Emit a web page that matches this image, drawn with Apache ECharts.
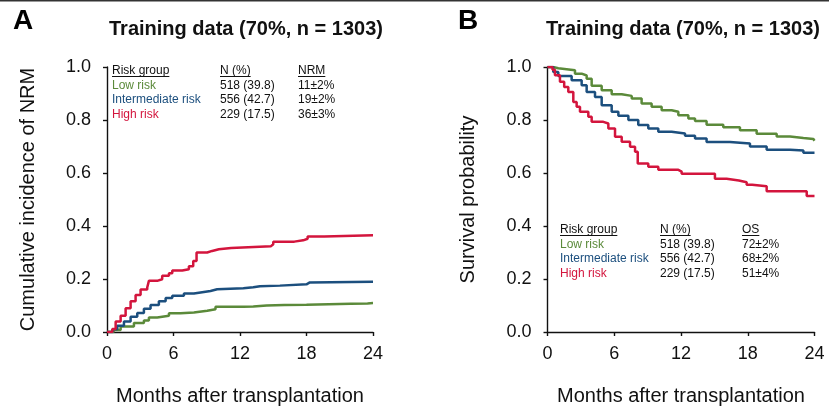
<!DOCTYPE html>
<html lang="en">
<head>
    <meta charset="UTF-8">
    <title>NRM and OS by risk group</title>
    <script src="https://cdn.jsdelivr.net/npm/echarts@6/dist/echarts.min.js"></script>
    <style>
        html, body { margin: 0; padding: 0; background: #fff; }
    </style>
</head>
<body>
    <div id="main" style="width: 829px;height:411px;"></div>
    <script>
        // table text
        var groups = ['Low risk', 'Intermediate risk', 'High risk'];
        var nCounts = ['518 (39.8)', '556 (42.7)', '229 (17.5)'];
        var nrmText = ['11±2%', '19±2%', '36±3%'];
        var osText = ['72±2%', '68±2%', '51±4%'];

        // panel A - cumulative incidence of NRM, [month, value]
        var nrmLow = [[0, 0], [0.6, 0.008], [1.23, 0.021], [2.43, 0.034], [3.33, 0.043], [3.78, 0.055],
            [4.53, 0.061], [5.59, 0.071], [6.64, 0.074], [7.84, 0.080], [9.04, 0.086], [9.79, 0.095],
            [12.3, 0.096], [13.2, 0.100], [14.4, 0.102], [16.0, 0.103], [18.0, 0.105], [20.0, 0.107],
            [22.0, 0.108], [23.5, 0.109], [24, 0.109]];
        var nrmMid = [[0, 0], [0.5, 0.010], [0.93, 0.024], [1.53, 0.040], [2.13, 0.058], [2.73, 0.072],
            [3.33, 0.088], [3.93, 0.102], [4.68, 0.116], [5.29, 0.128], [5.89, 0.137], [6.94, 0.145],
            [7.84, 0.151], [8.74, 0.155], [9.34, 0.161], [9.94, 0.165], [12.3, 0.169], [13.2, 0.173],
            [13.8, 0.175], [15.6, 0.180], [18.0, 0.187], [18.3, 0.190], [24, 0.190]];
        var nrmHigh = [[0, 0], [0.48, 0.011], [0.78, 0.040], [1.23, 0.061], [1.68, 0.090], [2.13, 0.116],
            [2.58, 0.140], [3.03, 0.160], [3.63, 0.168], [3.78, 0.193], [4.53, 0.199], [4.98, 0.212],
            [5.59, 0.222], [5.89, 0.232], [6.79, 0.237], [7.39, 0.248], [7.78, 0.268], [8.08, 0.300],
            [9.04, 0.306], [9.49, 0.312], [10.09, 0.317], [11.2, 0.324], [14.8, 0.331], [15.0, 0.341],
            [16.9, 0.346], [17.7, 0.352], [18.1, 0.360], [19.6, 0.365], [24, 0.365]];

        // panel B - overall survival, [month, value]
        var osLow = [[0, 1], [0.5, 0.995], [0.97, 0.988], [2.47, 0.975], [3.07, 0.968], [3.52, 0.956],
            [3.97, 0.929], [4.87, 0.912], [5.77, 0.897], [6.67, 0.891], [7.57, 0.881], [8.46, 0.862],
            [9.36, 0.850], [10.26, 0.837], [11.16, 0.831], [11.76, 0.818], [12.66, 0.806], [13.26, 0.796],
            [14.3, 0.782], [15.8, 0.773], [17.3, 0.761], [18.8, 0.748], [20.6, 0.738], [21.8, 0.732],
            [23.0, 0.728], [23.9, 0.722], [24, 0.722]];
        var osMid = [[0, 1], [0.52, 0.981], [0.97, 0.966], [2.17, 0.950], [3.07, 0.931], [3.52, 0.906],
            [4.27, 0.887], [4.87, 0.856], [5.77, 0.831], [6.37, 0.816], [7.27, 0.800], [8.16, 0.781],
            [9.06, 0.768], [9.96, 0.756], [11.16, 0.749], [12.36, 0.741], [13.26, 0.730], [14.3, 0.717],
            [16.4, 0.711], [18.2, 0.700], [19.7, 0.688], [21.8, 0.685], [23.0, 0.676], [24, 0.676]];
        var osHigh = [[0, 1], [0.45, 0.990], [0.67, 0.969], [1.12, 0.944], [1.5, 0.925], [1.87, 0.906],
            [2.32, 0.868], [2.62, 0.850], [2.92, 0.831], [3.67, 0.812], [3.97, 0.793], [5.02, 0.787],
            [5.47, 0.768], [6.07, 0.737], [6.67, 0.718], [7.42, 0.699], [7.87, 0.680], [8.11, 0.636],
            [9.06, 0.624], [9.96, 0.612], [11.76, 0.605], [12.06, 0.597], [15.05, 0.578], [16.1, 0.572],
            [17.2, 0.565], [17.9, 0.556], [18.4, 0.550], [19.7, 0.531], [23.3, 0.513], [24, 0.513]];

        var colors = ['#5b8a3a', '#1c4f7e', '#d3153d'];
        var font = '"Liberation Sans", Arial, sans-serif';

        var myChart = echarts.init(document.getElementById('main'));

        function xAxisOf(idx) {
            return {
                type: 'value', gridIndex: idx, min: 0, max: 24, interval: 6,
                name: 'Months after transplantation', nameLocation: 'middle', nameGap: 54,
                nameTextStyle: { fontSize: 20, color: '#111', fontFamily: font },
                axisLine: { lineStyle: { color: '#111', width: 1.4 } },
                axisTick: { inside: false, length: 4, lineStyle: { color: '#111', width: 1.4 } },
                axisLabel: { fontSize: 18, color: '#111', margin: 13, fontFamily: font },
                splitLine: { show: false }
            };
        }
        function yAxisOf(idx, name) {
            return {
                type: 'value', gridIndex: idx, min: 0, max: 1, interval: 0.2,
                name: name, nameLocation: 'middle', nameGap: 69,
                nameTextStyle: { fontSize: 20, color: '#111', fontFamily: font },
                axisLine: { show: true, lineStyle: { color: '#111', width: 1.4 } },
                axisTick: { show: true, inside: false, length: 4, lineStyle: { color: '#111', width: 1.4 } },
                axisLabel: { fontSize: 18, color: '#111', margin: 16, fontFamily: font,
                    formatter: function (v) { return v.toFixed(1); } },
                splitLine: { show: false }
            };
        }
        function line(name, data, c, xi) {
            return {
                name: name, type: 'line', xAxisIndex: xi, yAxisIndex: xi,
                step: 'end', symbol: 'none', data: data,
                lineStyle: { color: c, width: 2.5 }, itemStyle: { color: c }
            };
        }

        // underlined headers + table rows
        var ctx = document.createElement('canvas').getContext('2d');
        ctx.font = '12px ' + font;
        function table(x0, x1, x2, y0, lastHead, lastCol) {
            var out = [];
            var heads = [['Risk group', x0], ['N (%)', x1], [lastHead, x2]];
            heads.forEach(function (h) {
                out.push({ type: 'text', x: h[1], y: y0, style: { text: h[0], font: '12px ' + font, fill: '#111', verticalAlign: 'middle' } });
                var w = ctx.measureText(h[0]).width;
                out.push({ type: 'line', shape: { x1: h[1], y1: y0 + 5.5, x2: h[1] + w, y2: y0 + 5.5 }, style: { stroke: '#111', lineWidth: 1 } });
            });
            for (var i = 0; i < groups.length; i++) {
                var y = y0 + 14.5 * (i + 1);
                out.push({ type: 'text', x: x0, y: y, style: { text: groups[i], font: '12px ' + font, fill: colors[i], verticalAlign: 'middle' } });
                out.push({ type: 'text', x: x1, y: y, style: { text: nCounts[i], font: '12px ' + font, fill: '#111', verticalAlign: 'middle' } });
                out.push({ type: 'text', x: x2, y: y, style: { text: lastCol[i], font: '12px ' + font, fill: '#111', verticalAlign: 'middle' } });
            }
            return out;
        }

        var titleFont = 'bold 20px ' + font;
        var graphics = [
            { type: 'line', shape: { x1: 0, y1: 0.5, x2: 829, y2: 0.5 }, style: { stroke: '#333', lineWidth: 2 } },
            { type: 'text', x: 13, y: 21, style: { text: 'A', font: 'bold 28px ' + font, fill: '#000', verticalAlign: 'middle' } },
            { type: 'text', x: 458, y: 21, style: { text: 'B', font: 'bold 28px ' + font, fill: '#000', verticalAlign: 'middle' } },
            { type: 'text', x: 246, y: 29, style: { text: 'Training data (70%, n = 1303)', font: titleFont, fill: '#111', align: 'center', verticalAlign: 'middle' } },
            { type: 'text', x: 683, y: 29, style: { text: 'Training data (70%, n = 1303)', font: titleFont, fill: '#111', align: 'center', verticalAlign: 'middle' } }
        ].concat(table(112, 220, 298, 71, 'NRM', nrmText))
         .concat(table(560, 660, 742, 230, 'OS', osText));

        var option = {
            animation: false,
            backgroundColor: '#fff',
            grid: [
                { left: 107, top: 67, width: 266, height: 266 },
                { left: 547.5, top: 67, width: 267, height: 266 }
            ],
            xAxis: [xAxisOf(0), xAxisOf(1)],
            yAxis: [yAxisOf(0, 'Cumulative incidence of NRM'), yAxisOf(1, 'Survival probability')],
            series: [
                line('Low risk', nrmLow, colors[0], 0),
                line('Intermediate risk', nrmMid, colors[1], 0),
                line('High risk', nrmHigh, colors[2], 0),
                line('Low risk', osLow, colors[0], 1),
                line('Intermediate risk', osMid, colors[1], 1),
                line('High risk', osHigh, colors[2], 1)
            ],
            graphic: graphics
        };

        myChart.setOption(option);
    </script>
</body>
</html>
